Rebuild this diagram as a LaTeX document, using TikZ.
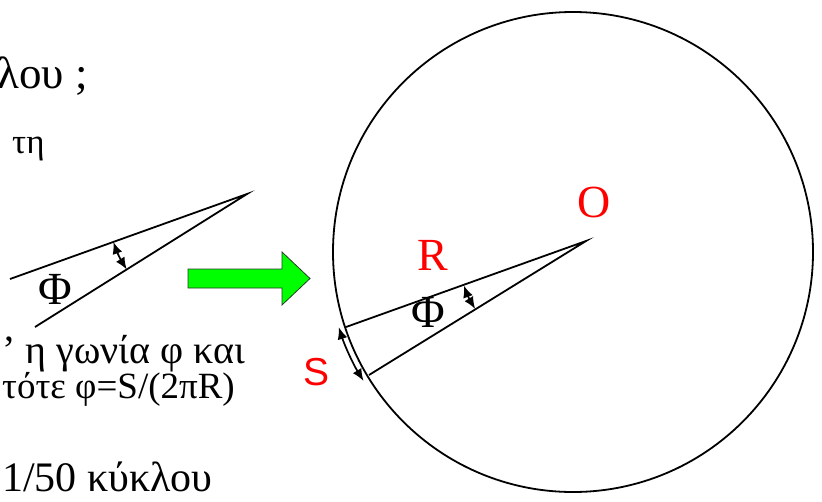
\documentclass[tikz,border=0pt]{standalone}
\usepackage{fontspec}
\setmainfont{Liberation Serif}
\newfontfamily\sansf{Liberation Sans}
\usetikzlibrary{arrows.meta,calc}
\begin{document}
\begin{tikzpicture}[x=1pt,y=1pt,
  txt/.style={inner sep=0pt, anchor=base west},
  bigtxt/.style={txt, font=\fontsize{42}{50}\selectfont},
  smalltxt/.style={txt, font=\fontsize{38}{44}\selectfont},
  lbl/.style={inner sep=0pt, anchor=base, font=\fontsize{46}{50}\selectfont},
  redlbl/.style={lbl, text=red},
  geo/.style={line width=1.8pt, black},
  tipx/.tip={Latex[length=12pt,width=10pt]},
  angarr/.style={arrows={tipx-tipx}, line width=1.7pt},
  greenarrow/.style={fill={rgb,255:red,0;green,255;blue,0}, draw={rgb,255:red,40;green,60;blue,40}, line width=0.8pt}
]
\useasboundingbox (0,0) rectangle (822,-501);
\clip (0,0) rectangle (822,-501);

% texts (cut at the left edge)
\node[bigtxt, font=\fontsize{45}{50}\selectfont] (t1) at (-3,-88) {λου ;};
\node[smalltxt, font=\fontsize{35}{40}\selectfont] (t2) at (12,-153) {τη};
\node[smalltxt, font=\fontsize{40}{44}\selectfont] (t3) at (2,-363) {’ η γωνία φ και};
\node[smalltxt, font=\fontsize{37}{44}\selectfont] (t4) at (2,-398) {τότε φ=S/(2πR)};
\node[bigtxt] (t5) at (2,-491) {1/50 κύκλου};

% small angle
\coordinate (A) at (247,-194);
\coordinate (A1) at (10,-279);
\coordinate (A2) at (35,-327);
\draw[geo] (A1) -- (A) -- (A2);
\draw[angarr] ($(A)+(199.7:142pt)$) arc[start angle=199.7, end angle=212.1, radius=142pt];
\node[lbl] (phi1) at (55,-304) {Φ};

% green arrow
\draw[greenarrow] (188,-269) -- (282,-269) -- (282,-252) -- (310,-278.5)
  -- (282,-305) -- (282,-288) -- (188,-288) -- cycle;

% circle
\coordinate (C) at (573,-252);
\draw[geo] (C) circle[radius=240pt];
\coordinate (O) at (586,-241);
\coordinate (P1) at (346,-327);
\coordinate (P2) at (369,-375);
\draw[geo] (P1) -- (O) -- (P2);
\draw[angarr] ($(O)+(200:130pt)$) arc[start angle=200, end angle=211.5, radius=130pt];
\draw[angarr] ($(C)+(197.8:246pt)$) arc[start angle=197.8, end angle=211.6, radius=246pt];

\node[redlbl] (lo) at (594,-217) {O};
\node[redlbl] (lr) at (433,-270) {R};
\node[lbl] (phi2) at (428,-327) {Φ};
\node[redlbl, font=\sansf\fontsize{39}{44}\selectfont] (ls) at (317,-385) {S};
\end{tikzpicture}
\end{document}
